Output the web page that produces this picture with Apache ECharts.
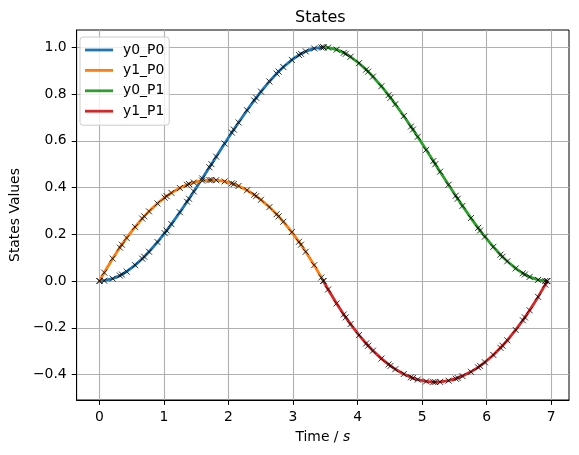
<!DOCTYPE html>
<html>
<head>
<meta charset="utf-8">
<script src="https://cdn.jsdelivr.net/npm/echarts@6/dist/echarts.min.js"></script>
<style>
html,body{margin:0;padding:0;background:#ffffff;}
#c{width:579px;height:455px;}
</style>
</head>
<body>
<div id="c"></div>
<script>
// ---- data ----
const t_P0 = [0.000, 0.074, 0.205, 0.316, 0.347, 0.421, 0.552, 0.663, 0.694, 0.768, 0.899, 1.010, 1.041, 1.115, 1.246, 1.357, 1.388, 1.462, 1.593, 1.704, 1.735, 1.809, 1.940, 2.051, 2.082, 2.156, 2.287, 2.398, 2.429, 2.503, 2.634, 2.745, 2.776, 2.850, 2.981, 3.092, 3.123, 3.197, 3.328, 3.439, 3.470];
const y0_P0 = [0, 0.0013, 0.0101, 0.0234, 0.0280, 0.0406, 0.0679, 0.0956, 0.1040, 0.1253, 0.1666, 0.2048, 0.2160, 0.2434, 0.2942, 0.3392, 0.3520, 0.3830, 0.4388, 0.4866, 0.5000, 0.5320, 0.5882, 0.6351, 0.6480, 0.6784, 0.7306, 0.7727, 0.7840, 0.8103, 0.8538, 0.8873, 0.8960, 0.9156, 0.9460, 0.9670, 0.9720, 0.9824, 0.9951, 0.9998, 1.0000];
const y1_P0 = [0, 0.0361, 0.0961, 0.1431, 0.1556, 0.1843, 0.2313, 0.2672, 0.2767, 0.2980, 0.3319, 0.3568, 0.3631, 0.3771, 0.3979, 0.4118, 0.4150, 0.4216, 0.4294, 0.4321, 0.4323, 0.4315, 0.4262, 0.4179, 0.4150, 0.4068, 0.3885, 0.3692, 0.3631, 0.3476, 0.3162, 0.2858, 0.2767, 0.2537, 0.2093, 0.1678, 0.1556, 0.1253, 0.0679, 0.0153, 0];
const t_P1 = [3.470, 3.544, 3.675, 3.786, 3.817, 3.891, 4.022, 4.133, 4.164, 4.238, 4.369, 4.480, 4.511, 4.585, 4.716, 4.827, 4.858, 4.932, 5.063, 5.174, 5.205, 5.279, 5.410, 5.521, 5.552, 5.626, 5.757, 5.868, 5.899, 5.973, 6.104, 6.215, 6.246, 6.320, 6.451, 6.562, 6.593, 6.667, 6.798, 6.909, 6.940];
const y0_P1 = [1, 0.9987, 0.9899, 0.9766, 0.9720, 0.9594, 0.9321, 0.9044, 0.8960, 0.8747, 0.8334, 0.7952, 0.7840, 0.7566, 0.7058, 0.6608, 0.6480, 0.6170, 0.5612, 0.5134, 0.5000, 0.4680, 0.4118, 0.3649, 0.3520, 0.3216, 0.2694, 0.2273, 0.2160, 0.1897, 0.1462, 0.1127, 0.1040, 0.0844, 0.0540, 0.0330, 0.0280, 0.0176, 0.0049, 0.0002, 0];
const y1_P1 = [0, -0.0361, -0.0961, -0.1431, -0.1556, -0.1843, -0.2313, -0.2672, -0.2767, -0.2980, -0.3319, -0.3568, -0.3631, -0.3771, -0.3979, -0.4118, -0.4150, -0.4216, -0.4294, -0.4321, -0.4323, -0.4315, -0.4262, -0.4179, -0.4150, -0.4068, -0.3885, -0.3692, -0.3631, -0.3476, -0.3162, -0.2858, -0.2767, -0.2537, -0.2093, -0.1678, -0.1556, -0.1253, -0.0679, -0.0153, 0];

const seriesNames = ['y0_P0', 'y1_P0', 'y0_P1', 'y1_P1'];
const xTickValues = [0, 1, 2, 3, 4, 5, 6, 7];
const yTickValues = [-0.4, -0.2, 0.0, 0.2, 0.4, 0.6, 0.8, 1.0];
const titleText = 'States';
const xAxisName = 'Time / {i|s}';
const yAxisName = 'States Values';

// ---- chart ----
const FONT = 'DejaVu Sans';
const colors = ['#1f77b4', '#ff7f0e', '#2ca02c', '#d62728'];
const pair = (xs, ys) => xs.map((x, i) => [x, ys[i]]);
const lineData = [pair(t_P0, y0_P0), pair(t_P0, y1_P0), pair(t_P1, y0_P1), pair(t_P1, y1_P1)];

const near = (v, list) => list.find(a => Math.abs(a - v) < 1e-6);
const fmtY = v => {
  const m = near(v, yTickValues);
  if (m === undefined) return '';
  const s = Math.abs(m).toFixed(1);
  return (m < -1e-9 ? '\u2212' : '') + s;
};
const fmtX = v => {
  const m = near(v, xTickValues);
  return m === undefined ? '' : String(m);
};

const series = [];
lineData.forEach((d, i) => {
  series.push({
    type: 'line', name: seriesNames[i], data: d, symbol: 'none',
    lineStyle: { width: 2.8, color: colors[i] }, itemStyle: { color: colors[i] },
    z: 2, animation: false, silent: true
  });
});
lineData.forEach((d, i) => {
  series.push({
    type: 'scatter', name: 'nodes' + i, data: d,
    symbol: 'path://M0,0L10,10M10,0L0,10', symbolSize: 6,
    itemStyle: { color: 'rgba(0,0,0,0)', borderColor: '#000000', borderWidth: 1 },
    z: 3, animation: false, silent: true
  });
});

const legendIcon = 'path://M0,0L28,0L28,2.8L0,2.8Z';

const chart = echarts.init(document.getElementById('c'), null, { renderer: 'canvas' });
chart.setOption({
  animation: false,
  backgroundColor: '#ffffff',
  title: {
    text: titleText, left: 295, top: 10, padding: 0,
    textStyle: { fontFamily: FONT, fontSize: 16, fontWeight: 'normal', color: '#000000' }
  },
  legend: {
    orient: 'vertical', left: 80, top: 37, padding: [6, 5, 7, 5],
    itemWidth: 28, itemHeight: 14, itemGap: 6.4, icon: legendIcon, symbolKeepAspect: true,
    backgroundColor: 'rgba(255,255,255,0.8)', borderColor: '#cccccc', borderWidth: 1, borderRadius: 3,
    textStyle: { fontFamily: FONT, fontSize: 13.9, color: '#000000', padding: [0, 0, 0, 5] },
    data: seriesNames, selectedMode: false
  },
  grid: {
    left: 73, right: 10, top: 30, bottom: 55, show: true,
    borderColor: '#000000', borderWidth: 1, backgroundColor: 'rgba(0,0,0,0)'
  },
  xAxis: {
    type: 'value', min: -0.354, max: 7.277, splitNumber: 8, minInterval: 1, maxInterval: 1,
    axisLine: { show: true, onZero: false, lineStyle: { color: '#000000', width: 1 } },
    axisTick: { show: true, inside: false, length: 4.9, customValues: xTickValues, lineStyle: { color: '#000000', width: 1 } },
    axisLabel: { margin: 10, fontFamily: FONT, fontSize: 13.9, color: '#000000', formatter: fmtX, customValues: xTickValues },
    splitLine: { show: true, lineStyle: { color: '#b0b0b0', width: 1.1 } },
    name: xAxisName, nameLocation: 'middle', nameGap: 30,
    nameTextStyle: { fontFamily: FONT, fontSize: 13.9, color: '#000000',
      rich: { i: { fontFamily: FONT, fontSize: 13.9, fontStyle: 'italic', color: '#000000' } } }
  },
  yAxis: {
    type: 'value', min: -0.509, max: 1.074, splitNumber: 8, minInterval: 0.2, maxInterval: 0.2,
    axisLine: { show: true, onZero: false, lineStyle: { color: '#000000', width: 1 } },
    axisTick: { show: true, inside: false, length: 4.9, customValues: yTickValues, lineStyle: { color: '#000000', width: 1 } },
    axisLabel: { margin: 10, fontFamily: FONT, fontSize: 13.9, color: '#000000', formatter: fmtY, customValues: yTickValues },
    splitLine: { show: true, lineStyle: { color: '#b0b0b0', width: 1.1 } },
    name: yAxisName, nameLocation: 'middle', nameGap: 50,
    nameTextStyle: { fontFamily: FONT, fontSize: 13.9, color: '#000000' }
  },
  series: series
});
</script>
</body>
</html>
